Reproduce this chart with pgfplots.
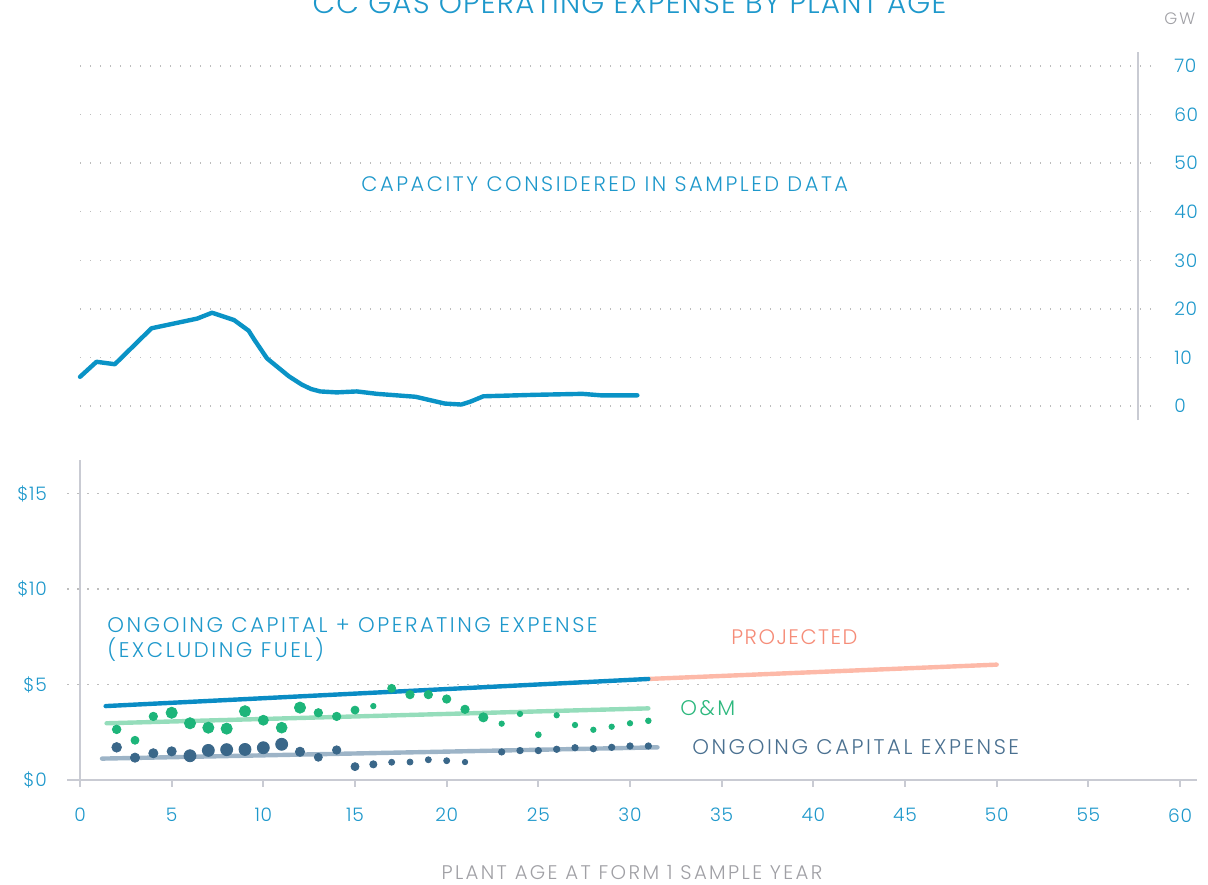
\documentclass[border=0pt]{standalone}
\usepackage{pgfplots}
\pgfplotsset{compat=1.18}
\usepackage{fontspec}
\setmainfont{Poppins}[UprightFont=* Light, LetterSpace=4]
\newfontfamily\lblfont{Poppins}[UprightFont=* Light, LetterSpace=12]
\newfontfamily\projfont{Poppins}[UprightFont=* Light, LetterSpace=7]
\definecolor{lblue}{HTML}{1E98CB}
\definecolor{capblue}{HTML}{0A93C6}
\definecolor{totblue}{HTML}{0A8CC4}
\definecolor{projline}{HTML}{FDB9A8}
\definecolor{projtext}{HTML}{F58C78}
\definecolor{omdot}{HTML}{1DB57A}
\definecolor{omline}{HTML}{95DDBB}
\definecolor{omtext}{HTML}{2DB87E}
\definecolor{capdot}{HTML}{3A6789}
\definecolor{capline}{HTML}{9DB4C7}
\definecolor{captext}{HTML}{4A7090}
\definecolor{axisgray}{HTML}{C9CBD3}
\definecolor{gridgray}{HTML}{BDBDBD}
\definecolor{graytext}{HTML}{A0A0A5}
\pgfplotstableread{
x y r
2 2.65 2.15
3 2.08 2.0
4 3.33 2.1
5 3.52 2.8
6 2.97 2.8
7 2.74 2.8
8 2.69 2.8
9 3.60 2.8
10 3.13 2.5
11 2.74 2.7
12 3.79 2.8
13 3.52 2.1
14 3.33 2.1
15 3.66 2.0
16 3.87 1.35
17 4.80 2.0
18 4.47 2.1
19 4.47 2.1
20 4.24 2.1
21 3.70 2.1
22 3.28 2.3
23 2.95 1.35
24 3.46 1.35
25 2.37 1.45
26 3.39 1.35
27 2.88 1.35
28 2.63 1.35
29 2.79 1.35
30 2.97 1.35
31 3.10 1.4
}\omdata
\pgfplotstableread{
x y r
2 1.71 2.4
3 1.17 2.3
4 1.40 2.3
5 1.50 2.3
6 1.27 3.0
7 1.55 3.0
8 1.59 3.0
9 1.60 3.0
10 1.69 3.0
11 1.87 3.0
12 1.48 2.3
13 1.19 2.0
14 1.57 2.1
15 0.70 2.0
16 0.82 1.8
17 0.93 1.5
18 0.94 1.5
19 1.06 1.5
20 1.01 1.5
21 0.94 1.35
23 1.47 1.6
24 1.54 1.6
25 1.54 1.6
26 1.61 1.6
27 1.69 1.6
28 1.64 1.6
29 1.71 1.6
30 1.78 1.6
31 1.78 1.6
}\capdata
\pgfplotstableread{
x y
0 6.0
0.9 9.1
1.9 8.6
3.9 16.0
5.4 17.2
6.4 18.0
7.2 19.2
8.4 17.7
9.2 15.5
9.5 13.7
10.2 9.8
11.4 6.1
12.1 4.4
12.6 3.5
13.1 3.0
14.0 2.8
15.1 3.0
16.2 2.5
18.3 1.9
19.9 0.5
20.8 0.3
21.3 0.9
22.0 2.0
24.8 2.3
27.4 2.5
28.4 2.2
30.4 2.2
}\capacity
\tikzset{gridline/.style={draw=gridgray, line width=0.7pt, dash pattern=on 0.7pt off 4.3pt}}
\newcommand{\ticksize}{\fontsize{9.3}{11}\selectfont}
\newcommand{\lblsize}{\lblfont\fontsize{10.6}{12}\selectfont}
\begin{document}
\begin{tikzpicture}
% ---------- bottom panel ----------
\begin{axis}[
  at={(40pt,52pt)}, anchor=origin,
  x=9.1667pt, y=9.55pt,
  xmin=-0.7, xmax=60.9, ymin=0, ymax=16.75,
  axis x line*=bottom, axis y line*=left,
  y axis line style={draw=none},
  x axis line style={draw=axisgray, line width=1pt},
  xtick={0,5,10,15,20,25,30,35,40,45,50,55,60},
  xticklabels={0,5,10,15,20,25,30,35,40,45,50,55,60},
  ytick={0,5,10,15}, yticklabels={\$0,\$5,\$10,\$15},
  major tick length=0pt,
  ymajorgrids, grid style={gridline},
  xticklabel style={font=\ticksize, text=lblue, inner sep=0pt, anchor=north, yshift=-14pt},
  yticklabel style={font=\ticksize, text=lblue, inner sep=0pt, anchor=east, xshift=-10pt},
  clip=false,
]
\draw[axisgray, line width=1pt] (axis cs:0,-0.37) -- (axis cs:0,16.75);
\pgfplotsinvokeforeach{0,5,10,15,20,25,30,35,40,45,50,55,60}{
  \draw[axisgray, line width=1pt] (axis cs:#1,0) -- ++(0pt,-3.5pt);
}
\addplot[line width=2.2pt, color=capline, line cap=round] coordinates {(1.2,1.12) (31.5,1.71)};
\addplot[line width=2.2pt, color=omline, line cap=round] coordinates {(1.45,2.97) (31,3.75)};
\addplot[scatter, only marks, mark=*, scatter/use mapped color={draw=omdot, fill=omdot},
  visualization depends on={\thisrow{r}\as\rr},
  scatter/@pre marker code/.append style={/tikz/mark size=\rr}]
  table[x=x, y=y] {\omdata};
\addplot[scatter, only marks, mark=*, scatter/use mapped color={draw=capdot, fill=capdot},
  visualization depends on={\thisrow{r}\as\rr},
  scatter/@pre marker code/.append style={/tikz/mark size=\rr}]
  table[x=x, y=y] {\capdata};
\addplot[line width=2.2pt, color=projline, line cap=round] coordinates {(31,5.29) (50,6.04)};
\addplot[line width=2.2pt, color=totblue, line cap=round] coordinates {(1.4,3.87) (31,5.29)};
\node[anchor=base west, inner sep=0pt, text=lblue, font=\lblsize] at (axis cs:1.47,7.70) {ONGOING CAPITAL + OPERATING EXPENSE};
\node[anchor=base west, inner sep=0pt, text=lblue, font=\lblsize] at (axis cs:1.47,6.44) {(EXCLUDING FUEL)};
\node[anchor=base west, inner sep=0pt, text=projtext, font=\projfont\fontsize{10.5}{12}\selectfont] at (axis cs:35.51,7.07) {PROJECTED};
\node[anchor=base west, inner sep=0pt, text=omtext, font=\lblsize] at (axis cs:32.73,3.40) {O\&M};
\node[anchor=base west, inner sep=0pt, text=captext, font=\lblsize] at (axis cs:33.38,1.31) {ONGOING CAPITAL EXPENSE};
\end{axis}
% ---------- top panel ----------
\begin{axis}[
  at={(40pt,239pt)}, anchor=origin,
  x=9.1667pt, y=2.4286pt,
  xmin=0, xmax=57.7, ymin=-2.9, ymax=72.9,
  axis x line=none, axis y line*=right,
  y axis line style={draw=axisgray, line width=1pt},
  ytick={0,10,20,30,40,50,60,70}, yticklabels={0,10,20,30,40,50,60,70},
  major tick length=0pt,
  yticklabel style={font=\ticksize, text=lblue, inner sep=0pt, anchor=west, xshift=18pt},
  clip=false,
]
\pgfplotsinvokeforeach{0,10,20,30,40,50,60,70}{
  \draw[gridline] (axis cs:0,#1) -- (axis cs:58.4,#1);
}
\addplot[line width=2.2pt, color=capblue, line cap=round, line join=round] table[x=x, y=y] {\capacity};
\node[anchor=base west, inner sep=0pt, text=lblue, font=\lblfont\fontsize{10.5}{12}\selectfont] at (axis cs:15.33,44.06) {CAPACITY CONSIDERED IN SAMPLED DATA};
\end{axis}
\node[anchor=base, inner sep=0pt, text=lblue, font=\fontsize{14.7}{16}\selectfont] at (314.75pt,435pt) {CC GAS OPERATING EXPENSE BY PLANT AGE};
\node[anchor=base west, inner sep=0pt, text=graytext, font=\lblfont\fontsize{8.3}{9}\selectfont] at (582pt,429.5pt) {GW};
\node[anchor=base, inner sep=0pt, text=graytext, font=\lblfont\fontsize{9.85}{11}\selectfont] at (316pt,2.5pt) {PLANT AGE AT FORM 1 SAMPLE YEAR};
\pgfresetboundingbox
\useasboundingbox (0,0) rectangle (604pt,442pt);
\end{tikzpicture}
\end{document}
